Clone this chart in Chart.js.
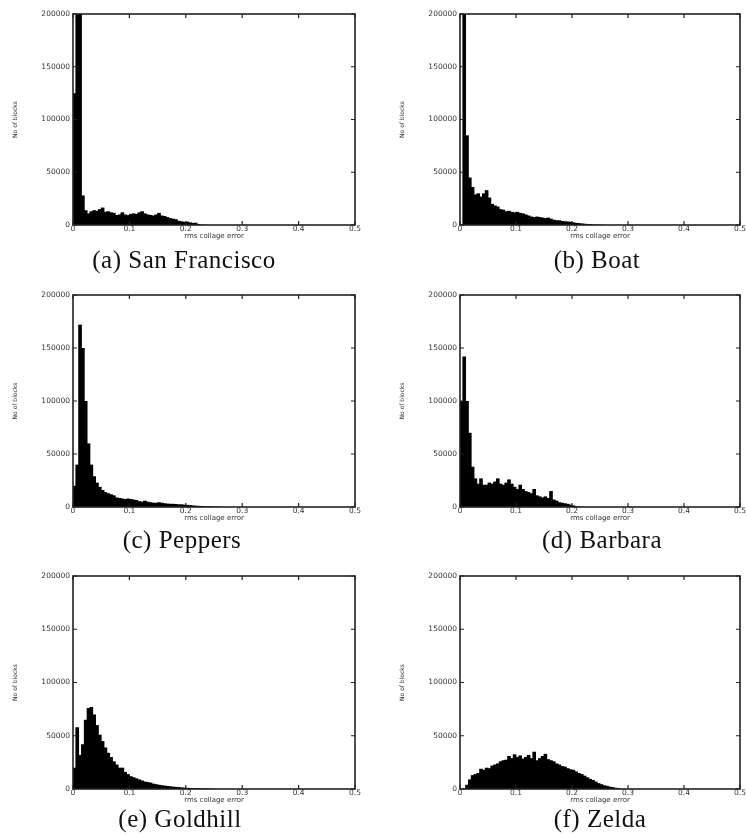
<!DOCTYPE html>
<html>
<head>
<meta charset="utf-8">
<script src="https://cdn.jsdelivr.net/npm/chart.js@4.4.1/dist/chart.umd.min.js"></script>
<style>
  html, body { margin: 0; padding: 0; background: #fff; }
  body { width: 747px; height: 835px; position: relative; overflow: hidden; }
  canvas { position: absolute; }
  .caption {
    position: absolute; width: 300px; text-align: center;
    font-family: "Liberation Serif", serif; font-size: 25px; line-height: 25px;
    letter-spacing: 0.5px; color: #111;
  }
</style>
</head>
<body>
<script>
// histogram bins of 0.005 rms collage error, counts
const binWidth = 0.005;
const xTicks = [0, 0.1, 0.2, 0.3, 0.4, 0.5];
const yTicks = [0, 50000, 100000, 150000, 200000];
const captions = ['(a) San Francisco', '(b) Boat', '(c) Peppers', '(d) Barbara', '(e) Goldhill', '(f) Zelda'];

const sanFrancisco = [125000, 260000, 240000, 28000, 14000, 11000, 13000, 14000, 13500, 15000,
  16500, 12500, 13000, 12000, 11500, 9500, 10000, 12000, 10000, 9500,
  10500, 11000, 10500, 12000, 13000, 11000, 10000, 9500, 9000, 10000,
  11500, 9000, 8500, 7500, 6500, 6000, 5500, 4000, 3500, 3000,
  3200, 2500, 2000, 2200, 800, 300, 200, 100];

const boat = [0, 260000, 85000, 45000, 36000, 29000, 30000, 27000, 30000, 33000,
  26000, 20000, 18500, 17500, 15000, 14500, 13000, 13500, 12500, 12000,
  12500, 11500, 11000, 10000, 9000, 8000, 7500, 8000, 7500, 7000,
  6500, 7000, 6000, 5000, 4500, 4500, 3800, 3500, 3300, 3000,
  2500, 2000, 1800, 1500, 1200, 1000, 800, 500, 300, 300, 200];

const peppers = [20000, 40000, 172000, 150000, 100000, 60000, 40000, 29000, 23000, 19000,
  16000, 14000, 13000, 12000, 11000, 9000, 8500, 8000, 7500, 8000,
  7500, 7000, 6500, 5500, 5000, 6000, 5000, 4500, 4000, 4000,
  4500, 4000, 3500, 3200, 3000, 3000, 2800, 2500, 2500, 2200,
  2000, 1800, 1500, 1300, 1100, 1000, 800, 700, 600, 500, 300, 200, 100];

const barbara = [100000, 142000, 100000, 70000, 38000, 27000, 22000, 27000, 21000, 21000,
  23000, 22000, 24000, 27000, 22000, 21000, 23000, 26000, 22000, 19000,
  17000, 21000, 17000, 15000, 14000, 13000, 17000, 11000, 10000, 9000,
  10000, 8500, 15000, 7000, 6000, 4500, 4000, 3500, 3000, 2200,
  1500, 800, 400, 200];

const goldhill = [20000, 58000, 32000, 42000, 65000, 76000, 77000, 70000, 60000, 51000,
  45000, 39000, 34000, 30000, 26000, 23000, 20000, 20000, 16000, 14000,
  12000, 11000, 10000, 9000, 8000, 7000, 6500, 6000, 5000, 4500,
  4000, 3500, 3200, 2800, 2500, 2200, 2000, 1800, 1500, 1300,
  1100, 1000, 900, 800, 700, 600, 600, 500, 400, 300, 200];

const zelda = [0, 500, 4000, 9000, 13000, 14000, 15000, 19000, 18000, 20000,
  19500, 22000, 23000, 24000, 26000, 27000, 27500, 31000, 29000, 32500,
  30000, 31500, 28500, 30000, 32000, 29000, 35000, 27000, 29000, 31000,
  33000, 28000, 27000, 26000, 24000, 23000, 21500, 21000, 19500, 18500,
  18000, 16500, 15000, 14000, 12500, 11000, 9500, 8500, 7000, 5500,
  4500, 3500, 3000, 2200, 1800, 1200, 800, 300];

const series = [sanFrancisco, boat, peppers, barbara, goldhill, zelda];

// plot-area rectangles in page pixels
const panels = [
  { left: 73, right: 355, top: 14, bottom: 225, capX: 184, capY: 247 },
  { left: 460, right: 740, top: 14, bottom: 225, capX: 597, capY: 247 },
  { left: 73, right: 355, top: 295, bottom: 507, capX: 182, capY: 527 },
  { left: 460, right: 740, top: 295, bottom: 507, capX: 602, capY: 527 },
  { left: 73, right: 355, top: 576, bottom: 789, capX: 180, capY: 806 },
  { left: 460, right: 740, top: 576, bottom: 789, capX: 600, capY: 806 }
];

const axisW = 73, axisH = 22, padTop = 14;

const framePlugin = {
  id: 'frame',
  afterDraw(chart) {
    const { ctx, chartArea: a, scales: { x, y } } = chart;
    ctx.save();
    ctx.strokeStyle = '#222';
    ctx.lineWidth = 1.6;
    ctx.strokeRect(a.left, a.top, a.right - a.left, a.bottom - a.top);
    ctx.lineWidth = 1.2;
    ctx.beginPath();
    x.ticks.forEach(t => {
      const px = x.getPixelForValue(t.value);
      ctx.moveTo(px, a.top); ctx.lineTo(px, a.top + 4);
      ctx.moveTo(px, a.bottom); ctx.lineTo(px, a.bottom - 4);
    });
    y.ticks.forEach(t => {
      const py = y.getPixelForValue(t.value);
      ctx.moveTo(a.left, py); ctx.lineTo(a.left + 4, py);
      ctx.moveTo(a.right, py); ctx.lineTo(a.right - 4, py);
    });
    ctx.stroke();
    ctx.restore();
  }
};

Chart.defaults.font.family = '"DejaVu Sans", sans-serif';
Chart.defaults.color = '#333';

panels.forEach((p, i) => {
  const cx = p.left - axisW;
  const cy = p.top - padTop;
  const w = Math.min(747 - cx, p.right + 18 - cx);
  const h = p.bottom + axisH - cy;

  const canvas = document.createElement('canvas');
  canvas.width = w;
  canvas.height = h;
  canvas.style.left = cx + 'px';
  canvas.style.top = cy + 'px';
  document.body.appendChild(canvas);

  const cap = document.createElement('div');
  cap.className = 'caption';
  cap.textContent = captions[i];
  cap.style.left = (p.capX - 150) + 'px';
  cap.style.top = p.capY + 'px';
  document.body.appendChild(cap);

  new Chart(canvas, {
    type: 'bar',
    data: {
      datasets: [{
        data: series[i].map((v, k) => ({ x: (k + 0.5) * binWidth, y: v })),
        backgroundColor: '#000',
        borderWidth: 0,
        barPercentage: 1.3,
        categoryPercentage: 1
      }]
    },
    plugins: [framePlugin],
    options: {
      responsive: false,
      animation: false,
      devicePixelRatio: 1,
      layout: { padding: { left: 0, top: padTop, right: w - (p.right - cx), bottom: 0 } },
      plugins: { legend: { display: false }, tooltip: { enabled: false } },
      scales: {
        x: {
          type: 'linear',
          min: 0,
          max: 0.5,
          offset: false,
          grid: { display: false, offset: false, drawTicks: false },
          border: { display: false },
          afterBuildTicks: s => { s.ticks = xTicks.map(v => ({ value: v })); },
          afterFit: s => { s.height = axisH; },
          ticks: {
            padding: 0,
            maxRotation: 0,
            autoSkip: false,
            font: { size: 7.5 },
            callback: v => String(+v.toFixed(1))
          },
          title: {
            display: true,
            text: 'rms collage error',
            font: { size: 7 },
            padding: { top: 0, bottom: 7 }
          }
        },
        y: {
          min: 0,
          max: 200000,
          grid: { display: false, drawTicks: false },
          border: { display: false },
          afterBuildTicks: s => { s.ticks = yTicks.map(v => ({ value: v })); },
          afterFit: s => { s.width = axisW; },
          ticks: {
            padding: 3,
            autoSkip: false,
            font: { size: 7.5 },
            callback: v => String(v)
          },
          title: {
            display: true,
            text: 'No of blocks',
            font: { size: 6 },
            padding: { top: 12, bottom: 0 }
          }
        }
      }
    }
  });
});
</script>
</body>
</html>
